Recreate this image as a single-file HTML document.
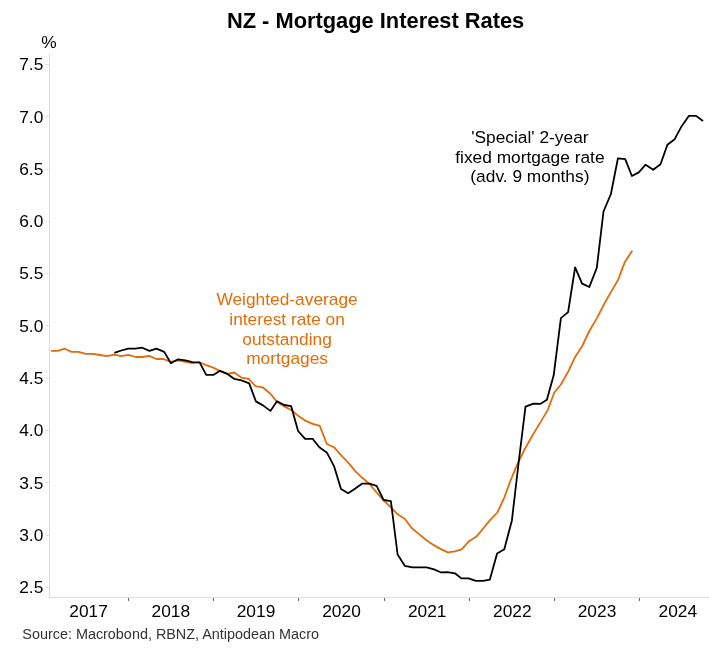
<!DOCTYPE html>
<html><head><meta charset="utf-8"><title>NZ - Mortgage Interest Rates</title>
<style>html,body{margin:0;padding:0;background:#fff}svg{display:block}text{font-family:"Liberation Sans",Arial,sans-serif}</style></head><body>
<svg width="709" height="658" viewBox="0 0 709 658">
<rect width="709" height="658" fill="#fff"/>
<text x="375.6" y="27.7" text-anchor="middle" font-size="21.85" font-weight="bold" fill="#000">NZ - Mortgage Interest Rates</text>
<text x="49" y="48.3" text-anchor="middle" font-size="17.33" fill="#000">%</text>
<g stroke="#dcdcdc" stroke-width="1" fill="none" shape-rendering="crispEdges">
<line x1="49.5" y1="54" x2="49.5" y2="597.5"/><line x1="49" y1="597.5" x2="709" y2="597.5"/>
<line x1="46" y1="64.5" x2="49" y2="64.5"/>
<line x1="46" y1="116.5" x2="49" y2="116.5"/>
<line x1="46" y1="169.5" x2="49" y2="169.5"/>
<line x1="46" y1="221.5" x2="49" y2="221.5"/>
<line x1="46" y1="273.5" x2="49" y2="273.5"/>
<line x1="46" y1="325.5" x2="49" y2="325.5"/>
<line x1="46" y1="378.5" x2="49" y2="378.5"/>
<line x1="46" y1="430.5" x2="49" y2="430.5"/>
<line x1="46" y1="482.5" x2="49" y2="482.5"/>
<line x1="46" y1="535.5" x2="49" y2="535.5"/>
<line x1="46" y1="587.5" x2="49" y2="587.5"/>
</g><g stroke="#666" stroke-width="1" shape-rendering="crispEdges">
<line x1="128.5" y1="597.5" x2="128.5" y2="601"/>
<line x1="213.5" y1="597.5" x2="213.5" y2="601"/>
<line x1="298.5" y1="597.5" x2="298.5" y2="601"/>
<line x1="384.5" y1="597.5" x2="384.5" y2="601"/>
<line x1="469.5" y1="597.5" x2="469.5" y2="601"/>
<line x1="554.5" y1="597.5" x2="554.5" y2="601"/>
<line x1="639.5" y1="597.5" x2="639.5" y2="601"/>
</g>
<text x="43.3" y="70.4" text-anchor="end" font-size="17.33" fill="#000">7.5</text>
<text x="43.3" y="122.7" text-anchor="end" font-size="17.33" fill="#000">7.0</text>
<text x="43.3" y="174.9" text-anchor="end" font-size="17.33" fill="#000">6.5</text>
<text x="43.3" y="227.2" text-anchor="end" font-size="17.33" fill="#000">6.0</text>
<text x="43.3" y="279.4" text-anchor="end" font-size="17.33" fill="#000">5.5</text>
<text x="43.3" y="331.7" text-anchor="end" font-size="17.33" fill="#000">5.0</text>
<text x="43.3" y="384.0" text-anchor="end" font-size="17.33" fill="#000">4.5</text>
<text x="43.3" y="436.2" text-anchor="end" font-size="17.33" fill="#000">4.0</text>
<text x="43.3" y="488.5" text-anchor="end" font-size="17.33" fill="#000">3.5</text>
<text x="43.3" y="540.7" text-anchor="end" font-size="17.33" fill="#000">3.0</text>
<text x="43.3" y="593.0" text-anchor="end" font-size="17.33" fill="#000">2.5</text>
<text x="88.6" y="617.3" text-anchor="middle" font-size="17.33" fill="#000">2017</text>
<text x="170.8" y="617.3" text-anchor="middle" font-size="17.33" fill="#000">2018</text>
<text x="256" y="617.3" text-anchor="middle" font-size="17.33" fill="#000">2019</text>
<text x="341.5" y="617.3" text-anchor="middle" font-size="17.33" fill="#000">2020</text>
<text x="427.2" y="617.3" text-anchor="middle" font-size="17.33" fill="#000">2021</text>
<text x="512.3" y="617.3" text-anchor="middle" font-size="17.33" fill="#000">2022</text>
<text x="597" y="617.3" text-anchor="middle" font-size="17.33" fill="#000">2023</text>
<text x="677.8" y="617.3" text-anchor="middle" font-size="17.33" fill="#000">2024</text>
<polyline points="51.0,350.9 57.8,350.9 64.7,348.7 71.6,351.9 78.6,351.9 85.6,353.9 92.7,353.8 99.8,355.0 106.9,356.2 114.1,354.7 121.3,356.2 128.2,354.9 135.8,357.0 142.3,357.0 149.4,355.9 156.4,359.0 163.5,359.0 170.5,361.8 178.0,360.3 185.3,361.8 192.4,363.2 199.6,362.3 206.2,365.2 213.3,367.6 220.0,371.1 227.4,373.9 234.4,372.5 241.5,377.7 248.5,378.9 255.6,386.2 262.6,387.3 270.4,393.7 277.0,401.9 284.2,406.4 291.2,410.0 298.4,415.9 305.9,420.9 312.6,423.9 319.8,425.9 326.8,444.0 334.0,447.2 341.0,455.2 348.2,462.7 355.3,471.1 362.3,477.8 369.5,484.0 376.6,492.5 383.6,500.3 390.6,507.0 397.6,514.3 404.9,519.0 411.9,528.3 419.4,534.4 426.4,540.2 433.4,544.9 440.4,548.9 447.9,552.4 454.9,551.3 461.7,549.3 469.3,540.9 476.2,536.8 483.0,528.8 489.8,520.4 497.4,512.5 504.4,497.3 510.6,480.3 517.6,463.6 525.1,448.5 532.6,435.2 540.2,422.6 547.7,410.1 554.3,392.5 560.9,384.5 568.1,371.9 575.1,356.9 582.3,346.0 589.3,331.0 597.2,317.6 604.4,303.5 611.4,291.4 618.3,279.4 624.9,261.9 632.3,250.7" fill="none" stroke="#E36C0A" stroke-width="1.8" stroke-linejoin="round" stroke-linecap="butt"/>
<polyline points="114.4,352.9 121.2,350.5 128.2,348.7 135.3,348.7 142.3,347.7 149.4,350.9 156.4,348.7 164.2,351.9 170.9,363.2 178.0,359.3 185.3,360.4 192.4,362.2 199.6,362.3 206.2,374.9 213.3,374.9 220.0,370.8 227.4,373.9 234.4,378.9 241.5,380.3 249.2,383.4 255.9,401.4 263.3,405.6 270.4,410.9 277.0,401.3 284.2,405.0 291.2,406.2 298.1,431.0 305.1,438.8 312.6,438.8 319.3,447.3 326.8,452.4 334.0,466.1 341.0,489.0 348.2,493.2 355.3,488.6 362.3,483.6 369.5,483.6 376.6,485.8 383.6,500.0 390.9,501.2 397.6,554.5 404.9,565.9 412.4,567.4 419.4,567.4 426.6,567.4 434.0,569.4 440.6,572.3 447.4,572.2 454.9,573.3 461.4,578.4 468.6,578.4 475.9,580.9 483.0,580.9 489.8,579.7 497.1,553.5 504.3,549.3 511.9,520.4 518.7,462.0 525.5,406.7 533.5,403.7 540.2,403.9 546.9,399.7 553.7,375.3 560.9,318.1 568.1,312.1 575.1,267.3 582.1,283.6 589.3,287.0 596.8,267.8 603.5,211.5 610.9,194.0 617.9,158.3 625.2,159.2 631.9,176.0 638.8,172.4 645.6,164.7 653.2,169.8 660.5,164.2 667.4,144.7 674.7,139.2 681.5,126.4 688.8,115.9 696.1,115.9 703.0,121.0" fill="none" stroke="#000" stroke-width="1.8" stroke-linejoin="round" stroke-linecap="butt"/>
<text x="287.1" y="305.1" text-anchor="middle" font-size="17.33" fill="#E36C0A">Weighted-average</text>
<text x="287.1" y="324.9" text-anchor="middle" font-size="17.33" fill="#E36C0A">interest rate on</text>
<text x="287.1" y="344.6" text-anchor="middle" font-size="17.33" fill="#E36C0A">outstanding</text>
<text x="287.1" y="364.4" text-anchor="middle" font-size="17.33" fill="#E36C0A">mortgages</text>
<text x="529.9" y="142.8" text-anchor="middle" font-size="17.33" fill="#000">'Special' 2-year</text>
<text x="529.9" y="162.5" text-anchor="middle" font-size="17.33" fill="#000">fixed mortgage rate</text>
<text x="529.9" y="182.2" text-anchor="middle" font-size="17.33" fill="#000">(adv. 9 months)</text>
<text x="22.3" y="639" font-size="14.4" fill="#333">Source: Macrobond, RBNZ, Antipodean Macro</text>
</svg></body></html>
